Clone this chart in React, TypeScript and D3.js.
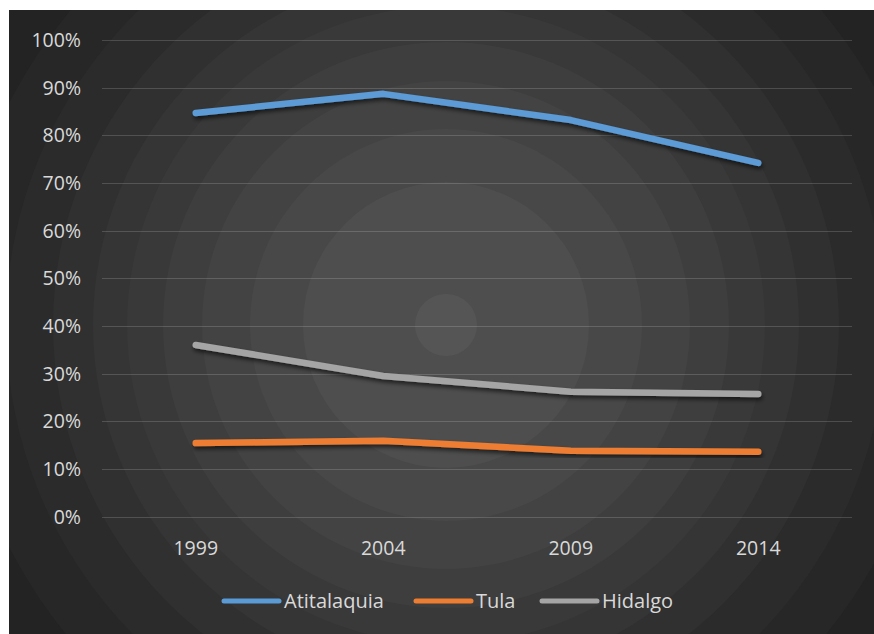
import React, { useEffect, useRef } from "react";
import * as d3 from "d3";

const years = ["1999", "2004", "2009", "2014"];
const atitalaquia = [0.847, 0.887, 0.832, 0.742];
const tula = [0.154, 0.159, 0.138, 0.136];
const hidalgo = [0.36, 0.295, 0.262, 0.257];
const yTicks = [0, 0.1, 0.2, 0.3, 0.4, 0.5, 0.6, 0.7, 0.8, 0.9, 1.0];

const series = [
  { name: "Atitalaquia", values: atitalaquia, color: "#5b9bd5" },
  { name: "Tula", values: tula, color: "#ed7d31" },
  { name: "Hidalgo", values: hidalgo, color: "#a5a5a5" },
];

// background rings (radius, fill) from outside in
const rings: [number, string][] = [
  [700, "#1f1f1f"],
  [540, "#232323"],
  [490, "#272727"],
  [440, "#2b2b2b"],
  [393, "#303030"],
  [353, "#353535"],
  [319, "#393939"],
  [283, "#3e3e3e"],
  [244, "#434343"],
  [196, "#484848"],
  [143, "#4e4e4e"],
  [31, "#555555"],
];

const App: React.FC = () => {
  const svgRef = useRef<SVGSVGElement | null>(null);
  const width = 874;
  const height = 634;

  useEffect(() => {
    const svg = d3.select(svgRef.current);
    svg.selectAll("*").remove();

    const defs = svg.append("defs");
    const clip = defs.append("clipPath").attr("id", "bgclip");
    clip.append("rect").attr("x", 9).attr("y", 10).attr("width", width - 9).attr("height", height - 10);

    const filter = defs
      .append("filter")
      .attr("id", "shadow")
      .attr("x", "-10%")
      .attr("y", "-50%")
      .attr("width", "120%")
      .attr("height", "200%");
    filter
      .append("feDropShadow")
      .attr("dx", 1)
      .attr("dy", 3)
      .attr("stdDeviation", 2)
      .attr("flood-color", "#000")
      .attr("flood-opacity", 0.6);

    svg.append("rect").attr("width", width).attr("height", height).attr("fill", "#fff");

    const bg = svg.append("g").attr("clip-path", "url(#bgclip)");
    bg.selectAll("circle")
      .data(rings)
      .enter()
      .append("circle")
      .attr("cx", 446)
      .attr("cy", 325)
      .attr("r", (d) => d[0])
      .attr("fill", (d) => d[1]);

    const x = d3.scaleBand().domain(years).range([102, 852]);
    const y = d3.scaleLinear().domain([0, 1]).range([516.5, 40]);

    // grid
    svg
      .append("g")
      .selectAll("line")
      .data(yTicks)
      .enter()
      .append("line")
      .attr("x1", 102)
      .attr("x2", 852)
      .attr("y1", (d) => Math.round(y(d)) + 0.5)
      .attr("y2", (d) => Math.round(y(d)) + 0.5)
      .attr("stroke", "rgba(255,255,255,0.16)")
      .attr("stroke-width", 1);

    const font = "'Open Sans', 'Noto Sans', sans-serif";

    // y labels
    svg
      .append("g")
      .selectAll("text")
      .data(yTicks)
      .enter()
      .append("text")
      .attr("x", 81)
      .attr("y", (d) => y(d))
      .attr("dy", "0.36em")
      .attr("text-anchor", "end")
      .attr("fill", "#d9d9d9")
      .attr("font-family", font)
      .attr("font-size", 19.5)
      .text((d) => d3.format(".0%")(d));

    // x labels
    svg
      .append("g")
      .selectAll("text")
      .data(years)
      .enter()
      .append("text")
      .attr("x", (d) => (x(d) as number) + x.bandwidth() / 2)
      .attr("y", 548)
      .attr("dy", "0.36em")
      .attr("text-anchor", "middle")
      .attr("fill", "#d9d9d9")
      .attr("font-family", font)
      .attr("font-size", 19.5)
      .text((d) => d);

    const line = d3
      .line<number>()
      .x((_, i) => (x(years[i]) as number) + x.bandwidth() / 2)
      .y((d) => y(d));

    svg
      .append("g")
      .selectAll("path")
      .data(series)
      .enter()
      .append("path")
      .attr("d", (d) => line(d.values))
      .attr("fill", "none")
      .attr("stroke", (d) => d.color)
      .attr("stroke-width", 6.5)
      .attr("stroke-linecap", "round")
      .attr("stroke-linejoin", "round")
      .attr("filter", "url(#shadow)");

    // legend
    const legendX = [224, 416, 542];
    const lg = svg
      .append("g")
      .selectAll("g")
      .data(series)
      .enter()
      .append("g")
      .attr("transform", (_, i) => `translate(${legendX[i]},601)`);
    lg.append("line")
      .attr("x1", 0)
      .attr("x2", 55)
      .attr("stroke", (d) => d.color)
      .attr("stroke-width", 5)
      .attr("stroke-linecap", "round");
    lg.append("text")
      .attr("x", 60)
      .attr("dy", "0.36em")
      .attr("fill", "#d9d9d9")
      .attr("font-family", font)
      .attr("font-size", 20)
      .text((d) => d.name);
  }, []);

  return (
    <svg
      ref={svgRef}
      width={width}
      height={height}
      style={{ position: "absolute", left: 0, top: 0, display: "block" }}
    ></svg>
  );
};

export default App;
